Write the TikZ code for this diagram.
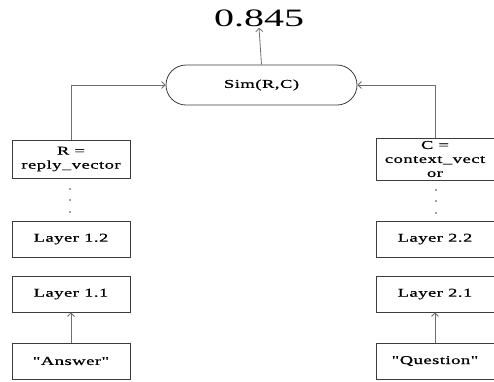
\documentclass[tikz,border=0pt]{standalone}
\usepackage{fontspec}
\setmainfont{Liberation Serif}[FakeStretch=1.6]
\newfontfamily\labelfont{Liberation Serif}[FakeStretch=1.55,FakeBold=0.8,LetterSpace=4]
\usetikzlibrary{arrows.meta}
\definecolor{edgegray}{RGB}{110,110,110}
\definecolor{boxline}{RGB}{60,60,60}
\newcommand{\sq}{\char34 }
\tikzset{
  layerbox/.style={draw=boxline, line width=0.8pt, minimum width=118pt,
    minimum height=36pt, inner sep=0pt, align=center,
    font=\labelfont\fontsize{12}{14}\selectfont},
  simbox/.style={draw=boxline, line width=0.8pt, rounded corners=20pt,
    minimum width=191pt, minimum height=40pt, inner sep=0pt,
    font=\labelfont\fontsize{12}{14}\selectfont},
  link/.style={draw=edgegray, line width=0.8pt,
    -{Straight Barb[length=3.5pt,width=7pt]}},
  dotmark/.style={fill=black!75}
}
\begin{document}
\begin{tikzpicture}[x=1pt,y=-1pt]
\useasboundingbox (0,0) rectangle (494,381);

% similarity node and its score
\node[simbox] (sim) at (261.5,85) {Sim(R,C)};
\node[inner sep=1pt, font=\fontsize{25}{28}\selectfont] (score) at (259,18) {0.845};

% left column: reply side
\node[layerbox, minimum height=38pt] (rvec) at (71,159) {R =\\reply\_vector};
\node[layerbox] (l12) at (71,239) {Layer 1.2};
\node[layerbox] (l11) at (71,294) {Layer 1.1};
\node[layerbox] (ans) at (71,361) {\sq Answer\sq};

% right column: context side
\node[layerbox, minimum height=42pt] (cvec) at (435,159) {C =\\context\_vect\\or};
\node[layerbox] (l22) at (435,239) {Layer 2.2};
\node[layerbox] (l21) at (435,294) {Layer 2.1};
\node[layerbox] (que) at (435,361) {\sq Question\sq};

% ellipsis dots between vector and upper layer
\foreach \yy in {189,200,212} {
  \fill[dotmark] (70,\yy) circle (0.9pt);
  \fill[dotmark] (436,\yy+1) circle (0.9pt);
}

% connectors
\draw[link] (rvec.north) |- (sim.west);
\draw[link] (cvec.north) |- (sim.east);
\draw[link] (sim.north) -- (score.south);
\draw[link] (ans.north) -- (l11.south);
\draw[link] (que.north) -- (l21.south);
\end{tikzpicture}
\end{document}
